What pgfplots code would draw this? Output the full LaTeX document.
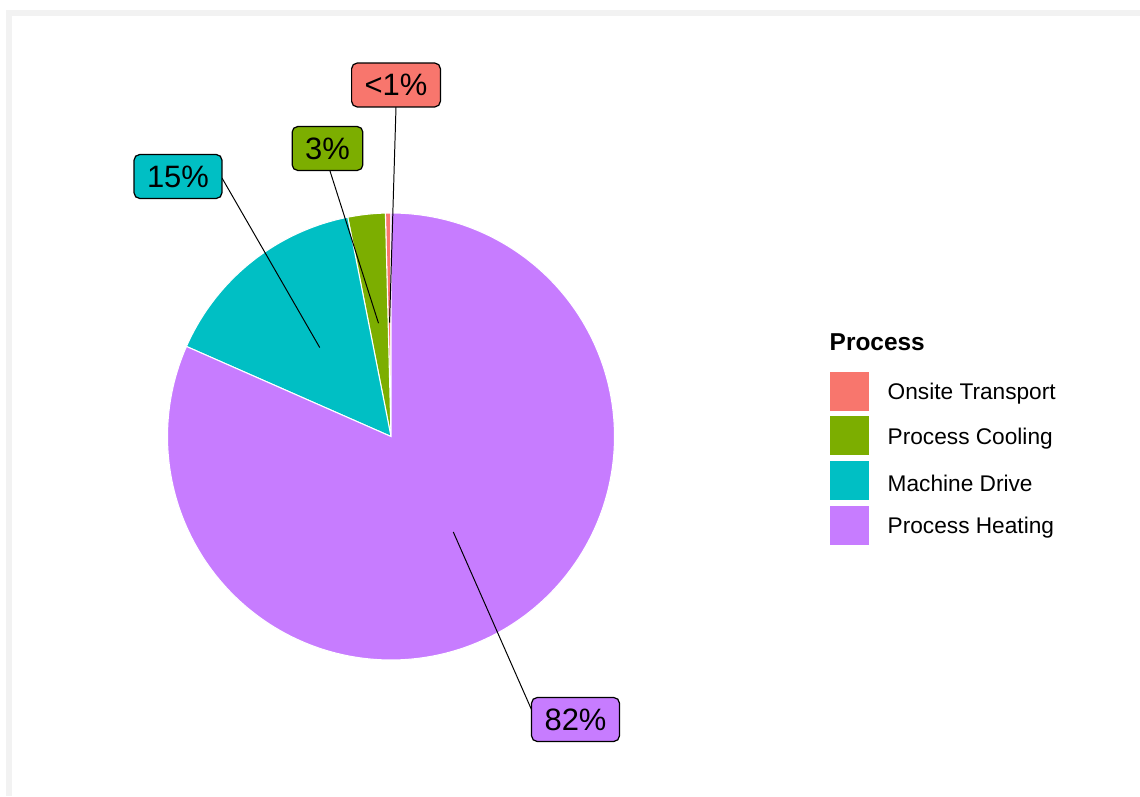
\documentclass[border=0pt]{standalone}
\usepackage{pgfplots}
\pgfplotsset{compat=1.18}
\usepackage{fontspec}
\setmainfont{Liberation Sans}
\definecolor{cOT}{HTML}{F8766D}
\definecolor{cPC}{HTML}{7CAE00}
\definecolor{cMD}{HTML}{00BFC4}
\definecolor{cPH}{HTML}{C77CFF}
\definecolor{frame}{HTML}{F2F2F2}
% shares (percent)
\def\vOT{0.4}
\def\vPC{2.7}
\def\vMD{15.3}
\def\vPH{81.6}
\def\cx{391}
\def\cy{359.5}
\def\R{223.5}
\def\rl{114}
\begin{document}
\begin{tikzpicture}[
  lbl/.style={draw=black, line width=0.35pt, rounded corners=1.6pt,
    inner xsep=3.7pt, inner ysep=0pt, minimum height=12.5pt,
    text height=6.3pt, text depth=0.1pt,
    font=\fontsize{8.8}{10.5}\selectfont},
  leg/.style={anchor=west, inner sep=0pt, font=\fontsize{6.45}{7.7}\selectfont},
]
\pgfmathsetmacro\aA{3.6*\vOT}
\pgfmathsetmacro\aB{\aA+3.6*\vPC}
\pgfmathsetmacro\aC{\aB+3.6*\vMD}
\pgfmathsetmacro\aD{\aC+3.6*\vPH}
\pgfmathsetmacro\mA{\aA/2}
\pgfmathsetmacro\mB{(\aA+\aB)/2}
\pgfmathsetmacro\mC{(\aB+\aC)/2}
\pgfmathsetmacro\mD{(\aC+\aD)/2}
\pgfmathsetmacro\pAx{\cx+\rl*cos(90+\mA)}\pgfmathsetmacro\pAy{\cy+\rl*sin(90+\mA)}
\pgfmathsetmacro\pBx{\cx+\rl*cos(90+\mB)}\pgfmathsetmacro\pBy{\cy+\rl*sin(90+\mB)}
\pgfmathsetmacro\pCx{\cx+\rl*cos(90+\mC)}\pgfmathsetmacro\pCy{\cy+\rl*sin(90+\mC)}
\pgfmathsetmacro\pDx{\cx+\rl*cos(90+\mD)}\pgfmathsetmacro\pDy{\cy+\rl*sin(90+\mD)}
\begin{axis}[
  width=11.4cm, height=7.96cm, scale only axis,
  xmin=0, xmax=1140, ymin=0, ymax=796,
  hide axis, clip=false,
]
% full canvas (keeps the bounding box)
\path (rel axis cs:0,0) rectangle (rel axis cs:1,1);
% screenshot frame
\fill[frame] (axis cs:6,786) rectangle (axis cs:1140,780);
\fill[frame] (axis cs:6,786) rectangle (axis cs:12,0);
% pie slices
\addplot[fill=cOT, draw=white, line width=0.3pt, domain=0:\aA, samples=5, variable=\t]
  ({\cx+\R*cos(90+\t)},{\cy+\R*sin(90+\t)}) -- (axis cs:\cx,\cy) -- cycle;
\addplot[fill=cPC, draw=white, line width=0.3pt, domain=\aA:\aB, samples=20, variable=\t]
  ({\cx+\R*cos(90+\t)},{\cy+\R*sin(90+\t)}) -- (axis cs:\cx,\cy) -- cycle;
\addplot[fill=cMD, draw=white, line width=0.3pt, domain=\aB:\aC, samples=60, variable=\t]
  ({\cx+\R*cos(90+\t)},{\cy+\R*sin(90+\t)}) -- (axis cs:\cx,\cy) -- cycle;
\addplot[fill=cPH, draw=white, line width=0.3pt, domain=\aC:\aD, samples=240, variable=\t]
  ({\cx+\R*cos(90+\t)},{\cy+\R*sin(90+\t)}) -- (axis cs:\cx,\cy) -- cycle;
% label segments
\addplot[black, line width=0.28pt] coordinates {(\pAx,\pAy) (396,689)};
\addplot[black, line width=0.28pt] coordinates {(\pBx,\pBy) (330,625)};
\addplot[black, line width=0.28pt] coordinates {(\pCx,\pCy) (222,618)};
\addplot[black, line width=0.28pt] coordinates {(\pDx,\pDy) (533,83)};
% labels
\node[lbl, fill=cOT] at (axis cs:396,711) {<1\%};
\node[lbl, fill=cPC] at (axis cs:327.5,647.5) {3\%};
\node[lbl, fill=cMD] at (axis cs:178,619.5) {15\%};
\node[lbl, fill=cPH] at (axis cs:575.5,76.5) {82\%};
% legend
\node[anchor=west, inner sep=0pt, font=\bfseries\fontsize{6.95}{8.3}\selectfont] at (axis cs:829,454) {Process};
\fill[cOT] (axis cs:830,424) rectangle (axis cs:869,385);
\fill[cPC] (axis cs:830,379.5) rectangle (axis cs:869,340.5);
\fill[cMD] (axis cs:830,335) rectangle (axis cs:869,296);
\fill[cPH] (axis cs:830,290) rectangle (axis cs:869,251);
\node[leg] at (axis cs:887,402) {Onsite Transport};
\node[leg] at (axis cs:887,357.5) {Process Cooling};
\node[leg] at (axis cs:887,313) {Machine Drive};
\node[leg] at (axis cs:887,268.5) {Process Heating};
\end{axis}
\end{tikzpicture}
\end{document}
